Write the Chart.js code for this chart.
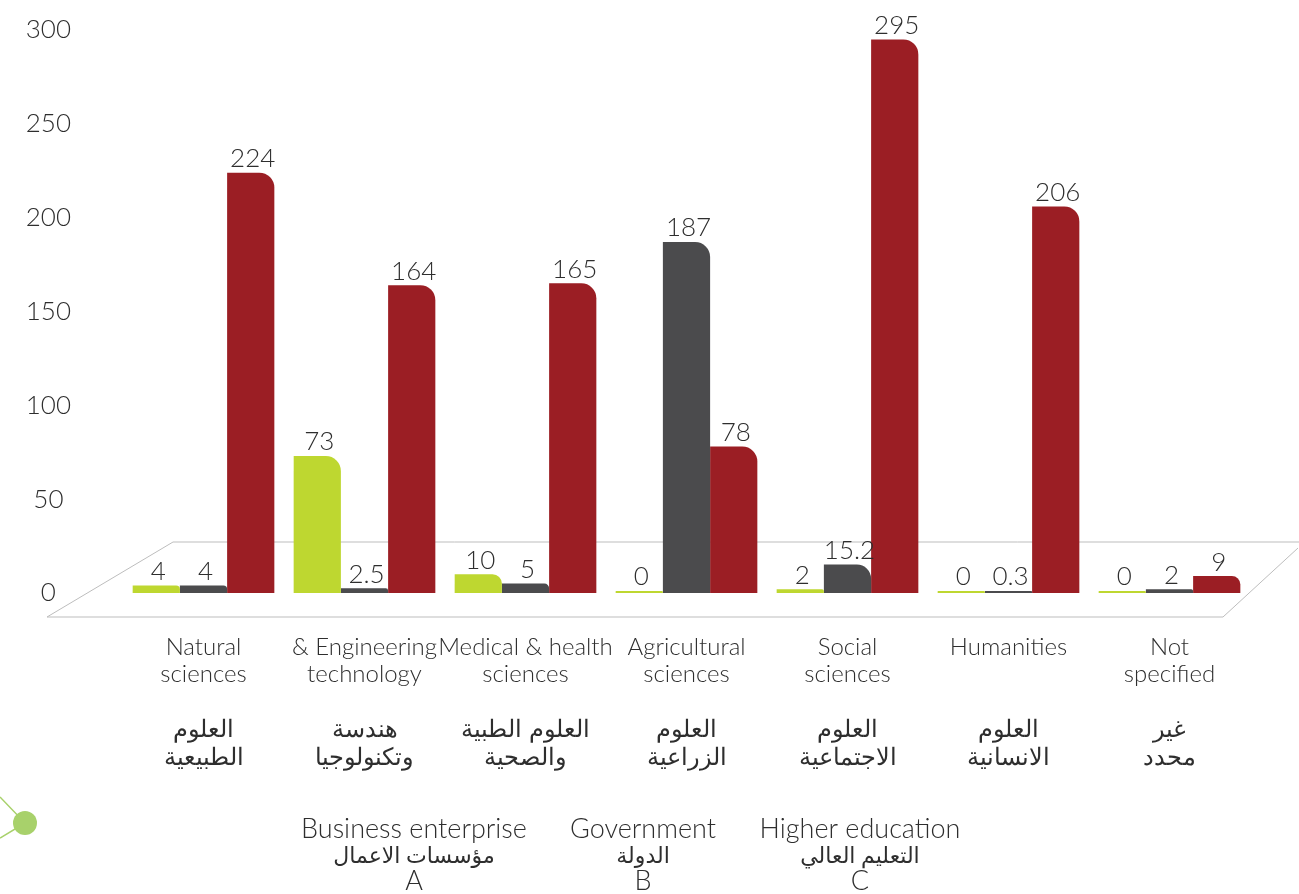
<!DOCTYPE html>
<html>
<head>
<meta charset="utf-8">
<style>
  html, body { margin: 0; padding: 0; background: #fff; }
  canvas { display: block; }
</style>
<script src="https://cdn.jsdelivr.net/npm/chart.js@4.4.1/dist/chart.umd.min.js"></script>
</head>
<body>
<canvas id="chartFields" width="1299" height="894"></canvas>
<script>
var fields = [
    ['Natural', 'sciences', '', 'العلوم', 'الطبيعية'],
    ['& Engineering', 'technology', '', 'هندسة', 'وتكنولوجيا'],
    ['Medical & health', 'sciences', '', 'العلوم الطبية', 'والصحية'],
    ['Agricultural', 'sciences', '', 'العلوم', 'الزراعية'],
    ['Social', 'sciences', '', 'العلوم', 'الاجتماعية'],
    ['Humanities', '', '', 'العلوم', 'الانسانية'],
    ['Not', 'specified', '', 'غير', 'محدد']
]
var business = [4, 73, 10, 0, 2, 0, 0]
var government = [4, 2.5, 5, 187, 15.2, 0.3, 2]
var higherEd = [224, 164, 165, 78, 295, 206, 9]
var sectorNames = [
    ['Business enterprise', 'مؤسسات الاعمال', 'A'],
    ['Government', 'الدولة', 'B'],
    ['Higher education', 'التعليم العالي', 'C']
]
var yTicks = { min: 0, max: 300, step: 50 }

var textColor = '#2e2e2e'
var fontFamily = "Lato, 'DejaVu Sans', sans-serif"

// floor drawn as a flat parallelogram under the bars
const floorPlugin = {
    id: 'floor',
    beforeDatasetsDraw(chart) {
        const ctx = chart.ctx;
        const a = chart.chartArea;
        const backY = a.bottom - 51;
        const frontY = a.bottom + 24;
        ctx.save();
        ctx.strokeStyle = '#bdbdbd';
        ctx.lineWidth = 1;
        ctx.beginPath();
        ctx.moveTo(a.left - 76, frontY);
        ctx.lineTo(a.left + 50, backY);
        ctx.lineTo(chart.width, backY);
        ctx.moveTo(chart.width - 1, backY + 6);
        ctx.lineTo(a.right - 27, frontY);
        ctx.lineTo(a.left - 76, frontY);
        ctx.stroke();
        ctx.restore();
    }
}

// values above every bar
const valuePlugin = {
    id: 'values',
    afterDatasetsDraw(chart) {
        const ctx = chart.ctx;
        ctx.save();
        ctx.fillStyle = textColor;
        ctx.font = '300 26px ' + fontFamily;
        ctx.textAlign = 'center';
        ctx.textBaseline = 'bottom';
        chart.data.datasets.forEach((ds, i) => {
            chart.getDatasetMeta(i).data.forEach((bar, j) => {
                ctx.fillText(String(ds.data[j]), bar.x + 2, bar.y - 1);
            });
        });
        ctx.restore();
    }
}

// sector names under the chart + corner decoration
const sectorPlugin = {
    id: 'sectors',
    afterDraw(chart) {
        const ctx = chart.ctx;
        const centers = [414, 643, 860];
        ctx.save();
        ctx.fillStyle = textColor;
        ctx.textAlign = 'center';
        ctx.textBaseline = 'middle';
        chart.data.datasets.forEach((ds, i) => {
            ctx.font = '300 27px ' + fontFamily;
            ctx.fillText(ds.label[0], centers[i], 829);
            ctx.font = '22px ' + fontFamily;
            ctx.fillText(ds.label[1], centers[i], 856);
            ctx.font = '300 27px ' + fontFamily;
            ctx.fillText(ds.label[2], centers[i], 881);
        });

        ctx.strokeStyle = '#a8d16b';
        ctx.lineWidth = 1.5;
        ctx.beginPath();
        ctx.moveTo(0, 797);
        ctx.lineTo(25, 823);
        ctx.lineTo(0, 838);
        ctx.stroke();
        ctx.fillStyle = '#a8d16b';
        ctx.beginPath();
        ctx.arc(25, 823, 12, 0, Math.PI * 2);
        ctx.fill();
        ctx.restore();
    }
}

function makeDataset(name, data, color) {
    return {
        label: name,
        data: data,
        backgroundColor: color,
        borderWidth: 0,
        borderRadius: { topLeft: 0, topRight: 15, bottomLeft: 0, bottomRight: 0 },
        borderSkipped: 'start',
        minBarLength: 2,
        categoryPercentage: 0.88,
        barPercentage: 1.0
    }
}

const ctx = document.getElementById('chartFields').getContext('2d');
const chartFields = new Chart(ctx, {
    type: 'bar',
    data: {
        labels: fields,
        datasets: [
            makeDataset(sectorNames[0], business, '#bed730'),
            makeDataset(sectorNames[1], government, '#4b4b4d'),
            makeDataset(sectorNames[2], higherEd, '#9b1e24')
        ]
    },
    plugins: [floorPlugin, valuePlugin, sectorPlugin],
    options: {
        responsive: false,
        animation: false,
        layout: {
            padding: { top: 0, right: 49, bottom: 0, left: 0 }
        },
        plugins: {
            legend: { display: false },
            tooltip: { enabled: false }
        },
        scales: {
            x: {
                grid: { display: false, drawTicks: false },
                border: { display: false },
                ticks: {
                    color: textColor,
                    font: { family: fontFamily, size: 24, weight: '300', lineHeight: 1.15 },
                    padding: 40,
                    maxRotation: 0,
                    autoSkip: false
                },
                afterFit: function (scale) { scale.height = 301 }
            },
            y: {
                min: yTicks.min,
                max: yTicks.max,
                grid: { display: false, drawTicks: false },
                border: { display: false },
                ticks: {
                    stepSize: yTicks.step,
                    color: textColor,
                    font: { family: fontFamily, size: 26, weight: '300' },
                    crossAlign: 'center',
                    padding: 52
                },
                afterFit: function (scale) {
                    scale.width = 123;
                    // the big label padding is only wanted sideways
                    scale.paddingTop = 30;
                    scale.paddingBottom = 14;
                }
            }
        }
    }
});
</script>
</body>
</html>
